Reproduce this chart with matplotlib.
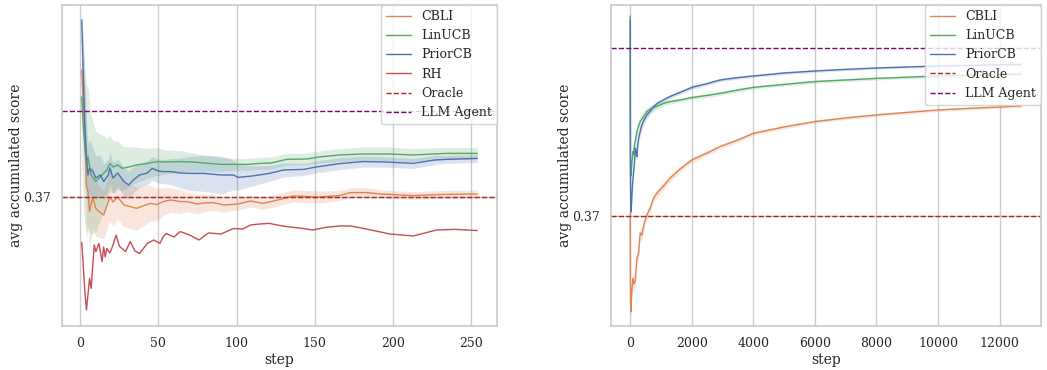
import numpy as np
import matplotlib
matplotlib.use("Agg")
import matplotlib.pyplot as plt
import seaborn as sns

# ---- left panel (short run) ----
oracle_left = 0.37
llm_left = 0.413

cbli_steps = [1, 2, 3, 4, 5, 6, 8, 10, 12, 15, 19, 21, 24, 28, 32, 36, 40, 45, 49, 53, 58, 64,
              68, 75, 79, 85, 92, 101, 109, 117, 128, 136, 153, 166, 173, 183, 192, 213, 234, 254]
cbli_vals = [0.4335, 0.415, 0.4027, 0.375, 0.3727, 0.3627, 0.370, 0.3643, 0.3627, 0.361, 0.370,
             0.3675, 0.370, 0.366, 0.3652, 0.3643, 0.3655, 0.3668, 0.3662, 0.3677, 0.3685, 0.3677,
             0.3677, 0.3665, 0.367, 0.3672, 0.366, 0.3665, 0.368, 0.3668, 0.3688, 0.3705, 0.370,
             0.3707, 0.3722, 0.3722, 0.3715, 0.3707, 0.3713, 0.3715]
cbli_err = [0.01, 0.02, 0.022, 0.02, 0.02, 0.018, 0.016, 0.014, 0.013, 0.012, 0.012, 0.012, 0.011,
            0.011, 0.011, 0.011, 0.01, 0.009, 0.008, 0.007, 0.006, 0.006, 0.005, 0.005, 0.0045,
            0.004, 0.0035, 0.003, 0.003, 0.003, 0.003, 0.003, 0.003, 0.0025, 0.0025, 0.0025,
            0.002, 0.002, 0.002, 0.002]

lin_steps = [1, 2, 3, 4, 5, 7, 10, 14, 17, 19, 21, 24, 27, 31, 36, 43, 49, 55, 64, 72, 79, 90, 100,
             107, 115, 122, 132, 145, 153, 166, 181, 198, 213, 234, 254]
lin_vals = [0.420, 0.405, 0.395, 0.3877, 0.390, 0.381, 0.3777, 0.381, 0.3835, 0.3868, 0.385, 0.386,
            0.3843, 0.385, 0.386, 0.3868, 0.3877, 0.3875, 0.3877, 0.3875, 0.387, 0.3863, 0.3863,
            0.3863, 0.3868, 0.387, 0.3888, 0.389, 0.390, 0.391, 0.3915, 0.3915, 0.391, 0.3918,
            0.3918]
lin_err = [0.03, 0.04, 0.04, 0.038, 0.035, 0.03, 0.025, 0.02, 0.016, 0.014, 0.013, 0.012, 0.011,
           0.01, 0.009, 0.0075, 0.007, 0.006, 0.0055, 0.0045, 0.004, 0.0035, 0.003, 0.003, 0.003,
           0.003, 0.003, 0.003, 0.003, 0.0032, 0.0035, 0.0035, 0.0032, 0.003, 0.003]

prior_steps = [1, 2, 3, 4, 5, 6, 8, 10, 13, 15, 18, 19, 21, 24, 28, 31, 34, 38, 43, 46, 50, 53,
               58, 64, 70, 79, 90, 98, 101, 110, 121, 130, 143, 151, 160, 166, 181, 195, 213, 227,
               234, 254]
prior_vals = [0.4585, 0.43, 0.405, 0.3895, 0.381, 0.3843, 0.383, 0.3795, 0.381, 0.3777, 0.381,
              0.3845, 0.3795, 0.382, 0.3777, 0.376, 0.3785, 0.381, 0.382, 0.3843, 0.383, 0.3827,
              0.3827, 0.382, 0.3818, 0.3818, 0.381, 0.381, 0.3798, 0.3805, 0.3818, 0.3835, 0.3838,
              0.385, 0.386, 0.3867, 0.3877, 0.3875, 0.3868, 0.3885, 0.3888, 0.3893]
prior_err = [0.006, 0.02, 0.02, 0.018, 0.015, 0.014, 0.012, 0.011, 0.01, 0.009, 0.008, 0.008,
             0.008, 0.007, 0.007, 0.007, 0.0065, 0.006, 0.006, 0.006, 0.006, 0.006, 0.0065, 0.0075,
             0.0085, 0.009, 0.0095, 0.0075, 0.0065, 0.005, 0.004, 0.0035, 0.003, 0.003, 0.003,
             0.003, 0.0028, 0.0026, 0.0025, 0.0023, 0.002, 0.002]

rh_steps = [1, 3, 4, 6, 7, 9, 10, 12, 14, 15, 16, 17, 19, 21, 23, 25, 29, 32, 35, 38, 43, 47, 51,
            53, 55, 60, 64, 70, 76, 82, 90, 98, 104, 109, 115, 121, 126, 132, 140, 149, 157, 166,
            173, 183, 198, 213, 228, 240, 254]
rh_vals = [0.3473, 0.3227, 0.3135, 0.3293, 0.3243, 0.346, 0.3427, 0.3468, 0.3377, 0.345, 0.340,
           0.3442, 0.342, 0.346, 0.351, 0.3455, 0.3427, 0.3477, 0.343, 0.3418, 0.3468, 0.3485,
           0.3468, 0.350, 0.3517, 0.350, 0.3527, 0.351, 0.3485, 0.352, 0.3515, 0.3542, 0.354,
           0.356, 0.3565, 0.3568, 0.356, 0.3552, 0.3545, 0.3535, 0.3548, 0.3555, 0.3555, 0.354,
           0.3515, 0.3505, 0.3535, 0.3538, 0.3532]

# ---- right panel (long run) ----
oracle_right = 0.37
llm_right = 0.454

cbli_steps_r = [1, 5, 10, 20, 40, 86, 120, 162, 216, 270, 324, 378, 450, 540, 650, 757, 900, 1081,
                1300, 1622, 2000, 2500, 2919, 3500, 4000, 5000, 6000, 7000, 8000, 9000, 10000,
                11000, 12000, 12700]
cbli_vals_r = [0.3715, 0.345, 0.330, 0.322, 0.330, 0.3389, 0.336, 0.3372, 0.3488, 0.3513, 0.3615,
               0.3605, 0.366, 0.3705, 0.374, 0.379, 0.382, 0.385, 0.389, 0.3935, 0.398, 0.4015,
               0.4047, 0.408, 0.4113, 0.4145, 0.4172, 0.419, 0.4205, 0.4218, 0.423, 0.4238,
               0.4245, 0.425]
cbli_err_r = [0.004, 0.006, 0.006, 0.006, 0.005, 0.004, 0.004, 0.004, 0.003, 0.003, 0.003, 0.003,
              0.0025, 0.0025, 0.002, 0.002, 0.002, 0.002, 0.0018, 0.0015, 0.0015, 0.0012, 0.0012,
              0.001, 0.001, 0.001, 0.0008, 0.0008, 0.0008, 0.0008, 0.0007, 0.0007, 0.0007, 0.0007]

lin_steps_r = [1, 3, 6, 10, 20, 40, 86, 110, 140, 170, 216, 270, 324, 400, 540, 650, 800, 973,
               1081, 1300, 1622, 2000, 2500, 2919, 3500, 4000, 5000, 6000, 7000, 8000, 9000,
               10000, 11000, 12000, 12700]
lin_vals_r = [0.47, 0.43, 0.41, 0.395, 0.39, 0.394, 0.4022, 0.401, 0.4055, 0.408, 0.4122, 0.415,
              0.4172, 0.419, 0.4222, 0.4235, 0.4245, 0.4255, 0.4263, 0.4272, 0.428, 0.4292, 0.4303,
              0.4313, 0.433, 0.4343, 0.4358, 0.4372, 0.438, 0.4388, 0.4394, 0.440, 0.4404,
              0.4407, 0.441]
lin_err_r = [0.004, 0.006, 0.005, 0.005, 0.004, 0.004, 0.004, 0.004, 0.0035, 0.003, 0.003, 0.003,
             0.003, 0.0025, 0.002, 0.002, 0.0015, 0.0015, 0.0012, 0.0012, 0.001, 0.001, 0.001,
             0.001, 0.001, 0.0008, 0.0008, 0.0008, 0.0008, 0.0008, 0.0007, 0.0007, 0.0007,
             0.0007, 0.0007]

prior_steps_r = [1, 3, 6, 10, 20, 40, 70, 108, 140, 162, 190, 216, 240, 270, 320, 378, 450, 540,
                 650, 757, 900, 1081, 1300, 1622, 2000, 2500, 2919, 3500, 4000, 5000, 6000, 7000,
                 8000, 9000, 10000, 11000, 12000, 12700]
prior_vals_r = [0.468, 0.44, 0.40, 0.385, 0.372, 0.376, 0.385, 0.392, 0.397, 0.4038, 0.402,
                0.3997, 0.405, 0.4088, 0.412, 0.4155, 0.418, 0.4205, 0.4225, 0.4247, 0.4265,
                0.428, 0.4298, 0.4318, 0.4343, 0.4362, 0.438, 0.4392, 0.440, 0.4415, 0.4425,
                0.4433, 0.444, 0.4445, 0.445, 0.4453, 0.4456, 0.4458]
prior_err_r = [0.003, 0.005, 0.005, 0.005, 0.004, 0.004, 0.004, 0.004, 0.003, 0.003, 0.003, 0.003,
               0.003, 0.0025, 0.0025, 0.002, 0.002, 0.002, 0.0015, 0.0015, 0.0012, 0.0012, 0.001,
               0.001, 0.001, 0.0008, 0.0008, 0.0008, 0.0007, 0.0007, 0.0007, 0.0006, 0.0006,
               0.0006, 0.0006, 0.0006, 0.0006, 0.0006]

sns.set_theme(style="whitegrid")
plt.rcParams['font.family'] = ['DejaVu Serif']
plt.rcParams['xtick.labelsize'] = 9
plt.rcParams['ytick.labelsize'] = 9
plt.rcParams['axes.labelsize'] = 10
plt.rcParams['legend.fontsize'] = 9

pal = sns.color_palette("deep")
c_blue, c_orange, c_green, c_red = pal[0], pal[1], pal[2], pal[3]
oracle_color = '#b22222'
llm_color = 'purple'


def band(ax, steps, vals, err, color, label):
    s = np.array(steps)
    v = np.array(vals)
    e = np.array(err)
    ax.fill_between(s, v - e, v + e, color=color, alpha=0.2, linewidth=0)
    ax.plot(s, v, color=color, lw=1.0, label=label)


fig = plt.figure(figsize=(10.47, 3.7), dpi=100)
ax1 = fig.add_axes([0.0592, 0.119, 0.4155, 0.8675])
ax2 = fig.add_axes([0.5833, 0.119, 0.4107, 0.8675])

# left
band(ax1, cbli_steps, cbli_vals, cbli_err, c_orange, 'CBLI')
band(ax1, lin_steps, lin_vals, lin_err, c_green, 'LinUCB')
band(ax1, prior_steps, prior_vals, prior_err, c_blue, 'PriorCB')
ax1.plot(rh_steps, rh_vals, color=c_red, lw=1.0, label='RH')
ax1.axhline(oracle_left, color=oracle_color, ls='--', lw=1.0, label='Oracle')
ax1.axhline(llm_left, color=llm_color, ls='--', lw=1.0, label='LLM Agent')
ax1.set_ylim(0.3055, 0.466)

# right
band(ax2, cbli_steps_r, cbli_vals_r, cbli_err_r, c_orange, 'CBLI')
band(ax2, lin_steps_r, lin_vals_r, lin_err_r, c_green, 'LinUCB')
band(ax2, prior_steps_r, prior_vals_r, prior_err_r, c_blue, 'PriorCB')
ax2.axhline(oracle_right, color=oracle_color, ls='--', lw=1.0, label='Oracle')
ax2.axhline(llm_right, color=llm_color, ls='--', lw=1.0, label='LLM Agent')
ax2.set_ylim(0.315, 0.4755)

for ax in (ax1, ax2):
    ax.set_yticks([0.37])
    ax.set_yticklabels(['0.37'])
    ax.set_xlabel('step', labelpad=2)
    ax.set_ylabel('avg accumulated score', labelpad=0)
    ax.tick_params(axis='both', length=0, pad=8)
    ax.legend(loc='upper right', borderaxespad=0.0)

fig.savefig('out.png', dpi=100)
